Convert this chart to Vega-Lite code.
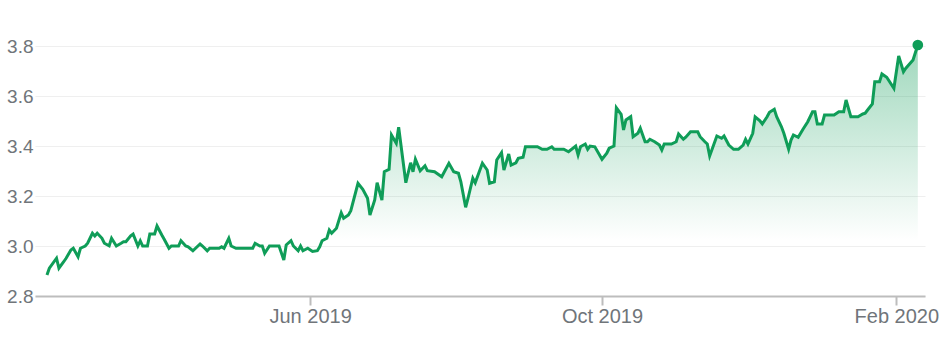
{
  "$schema": "https://vega.github.io/schema/vega-lite/v6.json",
  "width": 890,
  "height": 250,
  "autosize": {"type": "none"},
  "padding": {"left": 35, "top": 46, "right": 14, "bottom": 58},
  "background": "#ffffff",
  "config": {"view": {"stroke": null}},
  "data": {"values": [
    {"date":"2019-02-11","price":2.884},{"date":"2019-02-12","price":2.911},{"date":"2019-02-15","price":2.951},{"date":"2019-02-16","price":2.911},
    {"date":"2019-02-18","price":2.937},{"date":"2019-02-19","price":2.951},{"date":"2019-02-21","price":2.984},{"date":"2019-02-22","price":2.991},
    {"date":"2019-02-24","price":2.957},{"date":"2019-02-25","price":2.991},{"date":"2019-02-27","price":3.0},{"date":"2019-02-28","price":3.011},
    {"date":"2019-03-02","price":3.051},{"date":"2019-03-03","price":3.04},{"date":"2019-03-04","price":3.051},{"date":"2019-03-06","price":3.031},
    {"date":"2019-03-07","price":3.011},{"date":"2019-03-09","price":3.001},{"date":"2019-03-10","price":3.031},{"date":"2019-03-12","price":3.0},
    {"date":"2019-03-14","price":3.011},{"date":"2019-03-15","price":3.017},{"date":"2019-03-16","price":3.017},{"date":"2019-03-18","price":3.041},
    {"date":"2019-03-19","price":3.048},{"date":"2019-03-21","price":3.0},{"date":"2019-03-22","price":3.021},{"date":"2019-03-23","price":3.0},
    {"date":"2019-03-25","price":3.0},{"date":"2019-03-26","price":3.048},{"date":"2019-03-28","price":3.048},{"date":"2019-03-29","price":3.08},
    {"date":"2019-03-31","price":3.044},{"date":"2019-04-01","price":3.027},{"date":"2019-04-03","price":2.991},{"date":"2019-04-04","price":3.0},
    {"date":"2019-04-07","price":3.0},{"date":"2019-04-08","price":3.021},{"date":"2019-04-10","price":3.0},{"date":"2019-04-11","price":2.997},
    {"date":"2019-04-13","price":2.981},{"date":"2019-04-16","price":3.008},{"date":"2019-04-17","price":3.0},{"date":"2019-04-19","price":2.981},
    {"date":"2019-04-20","price":2.991},{"date":"2019-04-24","price":2.991},{"date":"2019-04-25","price":2.997},{"date":"2019-04-26","price":2.991},
    {"date":"2019-04-28","price":3.031},{"date":"2019-04-29","price":3.0},{"date":"2019-05-01","price":2.991},{"date":"2019-05-08","price":2.991},
    {"date":"2019-05-09","price":3.011},{"date":"2019-05-11","price":3.0},{"date":"2019-05-12","price":3.0},{"date":"2019-05-13","price":2.971},
    {"date":"2019-05-15","price":3.0},{"date":"2019-05-19","price":3.0},{"date":"2019-05-21","price":2.944},{"date":"2019-05-22","price":3.004},
    {"date":"2019-05-24","price":3.021},{"date":"2019-05-25","price":3.0},{"date":"2019-05-27","price":2.981},{"date":"2019-05-28","price":3.0},
    {"date":"2019-05-29","price":2.981},{"date":"2019-05-31","price":2.991},{"date":"2019-06-02","price":2.978},{"date":"2019-06-04","price":2.981},
    {"date":"2019-06-05","price":2.997},{"date":"2019-06-06","price":3.021},{"date":"2019-06-08","price":3.031},{"date":"2019-06-09","price":3.064},
    {"date":"2019-06-10","price":3.051},{"date":"2019-06-12","price":3.071},{"date":"2019-06-14","price":3.133},{"date":"2019-06-15","price":3.111},
    {"date":"2019-06-17","price":3.124},{"date":"2019-06-18","price":3.141},{"date":"2019-06-21","price":3.251},{"date":"2019-06-23","price":3.227},
    {"date":"2019-06-25","price":3.191},{"date":"2019-06-26","price":3.124},{"date":"2019-06-28","price":3.184},{"date":"2019-06-29","price":3.253},
    {"date":"2019-07-01","price":3.184},{"date":"2019-07-02","price":3.297},{"date":"2019-07-04","price":3.307},{"date":"2019-07-05","price":3.444},
    {"date":"2019-07-07","price":3.411},{"date":"2019-07-08","price":3.475},{"date":"2019-07-11","price":3.253},{"date":"2019-07-13","price":3.333},
    {"date":"2019-07-14","price":3.297},{"date":"2019-07-15","price":3.347},{"date":"2019-07-17","price":3.301},{"date":"2019-07-19","price":3.321},
    {"date":"2019-07-20","price":3.301},{"date":"2019-07-23","price":3.297},{"date":"2019-07-26","price":3.277},{"date":"2019-07-29","price":3.331},
    {"date":"2019-07-31","price":3.297},{"date":"2019-08-02","price":3.291},{"date":"2019-08-03","price":3.257},{"date":"2019-08-05","price":3.155},
    {"date":"2019-08-06","price":3.191},{"date":"2019-08-08","price":3.271},{"date":"2019-08-09","price":3.253},{"date":"2019-08-12","price":3.331},
    {"date":"2019-08-14","price":3.304},{"date":"2019-08-15","price":3.251},{"date":"2019-08-17","price":3.257},{"date":"2019-08-18","price":3.344},
    {"date":"2019-08-20","price":3.373},{"date":"2019-08-21","price":3.304},{"date":"2019-08-23","price":3.368},{"date":"2019-08-24","price":3.324},
    {"date":"2019-08-26","price":3.333},{"date":"2019-08-27","price":3.351},{"date":"2019-08-29","price":3.355},{"date":"2019-08-30","price":3.397},
    {"date":"2019-09-04","price":3.397},{"date":"2019-09-06","price":3.387},{"date":"2019-09-08","price":3.387},{"date":"2019-09-10","price":3.397},
    {"date":"2019-09-11","price":3.387},{"date":"2019-09-15","price":3.387},{"date":"2019-09-17","price":3.377},{"date":"2019-09-20","price":3.4},
    {"date":"2019-09-21","price":3.364},{"date":"2019-09-22","price":3.397},{"date":"2019-09-24","price":3.408},{"date":"2019-09-25","price":3.387},
    {"date":"2019-09-26","price":3.4},{"date":"2019-09-28","price":3.397},{"date":"2019-10-01","price":3.347},{"date":"2019-10-03","price":3.371},
    {"date":"2019-10-04","price":3.391},{"date":"2019-10-06","price":3.4},{"date":"2019-10-07","price":3.553},{"date":"2019-10-09","price":3.527},
    {"date":"2019-10-10","price":3.464},{"date":"2019-10-11","price":3.504},{"date":"2019-10-13","price":3.517},{"date":"2019-10-14","price":3.437},
    {"date":"2019-10-16","price":3.451},{"date":"2019-10-17","price":3.471},{"date":"2019-10-19","price":3.417},{"date":"2019-10-20","price":3.417},
    {"date":"2019-10-21","price":3.427},{"date":"2019-10-23","price":3.417},{"date":"2019-10-25","price":3.404},{"date":"2019-10-26","price":3.384},
    {"date":"2019-10-27","price":3.408},{"date":"2019-10-30","price":3.408},{"date":"2019-11-01","price":3.417},{"date":"2019-11-02","price":3.448},
    {"date":"2019-11-04","price":3.427},{"date":"2019-11-05","price":3.435},{"date":"2019-11-07","price":3.457},{"date":"2019-11-10","price":3.457},
    {"date":"2019-11-11","price":3.437},{"date":"2019-11-13","price":3.417},{"date":"2019-11-14","price":3.408},{"date":"2019-11-15","price":3.36},
    {"date":"2019-11-18","price":3.44},{"date":"2019-11-20","price":3.431},{"date":"2019-11-21","price":3.44},{"date":"2019-11-23","price":3.404},
    {"date":"2019-11-25","price":3.387},{"date":"2019-11-27","price":3.387},{"date":"2019-11-29","price":3.404},{"date":"2019-11-30","price":3.427},
    {"date":"2019-12-01","price":3.408},{"date":"2019-12-03","price":3.451},{"date":"2019-12-04","price":3.517},{"date":"2019-12-06","price":3.501},
    {"date":"2019-12-07","price":3.488},{"date":"2019-12-09","price":3.517},{"date":"2019-12-10","price":3.535},{"date":"2019-12-12","price":3.547},
    {"date":"2019-12-13","price":3.517},{"date":"2019-12-15","price":3.477},{"date":"2019-12-16","price":3.451},{"date":"2019-12-18","price":3.387},
    {"date":"2019-12-19","price":3.424},{"date":"2019-12-20","price":3.444},{"date":"2019-12-22","price":3.435},{"date":"2019-12-24","price":3.467},
    {"date":"2019-12-26","price":3.497},{"date":"2019-12-28","price":3.537},{"date":"2019-12-29","price":3.537},{"date":"2019-12-30","price":3.488},
    {"date":"2020-01-01","price":3.488},{"date":"2020-01-02","price":3.524},{"date":"2020-01-06","price":3.524},{"date":"2020-01-08","price":3.537},
    {"date":"2020-01-10","price":3.537},{"date":"2020-01-11","price":3.584},{"date":"2020-01-13","price":3.517},{"date":"2020-01-16","price":3.517},
    {"date":"2020-01-18","price":3.528},{"date":"2020-01-19","price":3.531},{"date":"2020-01-20","price":3.544},{"date":"2020-01-22","price":3.568},
    {"date":"2020-01-23","price":3.657},{"date":"2020-01-25","price":3.657},{"date":"2020-01-26","price":3.688},{"date":"2020-01-28","price":3.675},
    {"date":"2020-01-31","price":3.631},{"date":"2020-02-02","price":3.76},{"date":"2020-02-04","price":3.697},{"date":"2020-02-05","price":3.711},
    {"date":"2020-02-08","price":3.744},{"date":"2020-02-10","price":3.804}
  ]},
  "encoding": {
    "x": {
      "field": "date", "type": "temporal",
      "scale": {"type": "utc", "domain": [{"year": 2019, "month": 2, "date": 6, "utc": true}, {"year": 2020, "month": 2, "date": 13, "utc": true}]},
      "axis": {
        "title": null,
        "values": [{"year": 2019, "month": 6, "date": 1, "utc": true}, {"year": 2019, "month": 10, "date": 1, "utc": true}, {"year": 2020, "month": 2, "date": 1, "utc": true}],
        "format": "%b %Y",
        "grid": false,
        "domainColor": "#bdbdbd", "domainWidth": 2,
        "tickColor": "#bdbdbd", "tickWidth": 2, "tickSize": 9,
        "labelFont": "Liberation Sans, Arial, sans-serif", "labelFontSize": 20, "labelColor": "#70757a",
        "labelPadding": 1, "labelFlush": false, "labelOverlap": false, "labelBound": false
      }
    },
    "y": {
      "field": "price", "type": "quantitative",
      "scale": {"domain": [2.8, 3.8], "nice": false, "zero": false},
      "axis": {
        "title": null,
        "values": [2.8, 3.0, 3.2, 3.4, 3.6, 3.8],
        "format": ".1f",
        "domain": false, "ticks": false, "tickSize": 0,
        "grid": true, "gridColor": "#efefef", "gridWidth": 1,
        "labelFont": "Liberation Sans, Arial, sans-serif", "labelFontSize": 19, "labelColor": "#70757a",
        "labelPadding": 2
      }
    }
  },
  "layer": [
    {
      "mark": {
        "type": "area",
        "color": {
          "gradient": "linear", "x1": 0, "y1": 0, "x2": 0, "y2": 1,
          "stops": [
            {"offset": 0, "color": "rgba(15,157,88,0.40)"},
            {"offset": 0.78, "color": "rgba(15,157,88,0)"},
            {"offset": 1, "color": "rgba(15,157,88,0)"}
          ]
        }
      },
      "encoding": {"y2": {"datum": 2.8}}
    },
    {
      "mark": {"type": "line", "color": "#0f9d58", "strokeWidth": 3, "strokeJoin": "miter"},
      "encoding": {}
    },
    {
      "transform": [{"filter": "datum.price >= 3.8"}],
      "mark": {"type": "point", "filled": true, "color": "#0f9d58", "size": 115, "opacity": 1},
      "encoding": {}
    }
  ]
}
